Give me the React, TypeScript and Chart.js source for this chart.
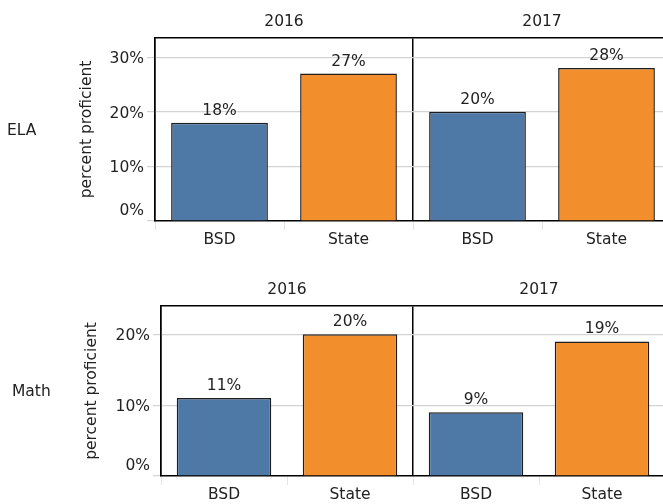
import React, { useEffect, useRef } from "react";
import { Chart, registerables } from "chart.js";

Chart.register(...registerables);

const categories = ["BSD", "State", "BSD", "State"];
const years = ["2016", "2017"];
const elaValues = [18, 27, 20, 28];
const mathValues = [11, 20, 9, 19];
const elaTicks = [0, 10, 20, 30];
const mathTicks = [0, 10, 20];
const elaMax = 33.5;
const mathMax = 24;
const rowLabels = ["ELA", "Math"];
const yTitle = "percent proficient";

const BLUE = "#4e79a7";
const ORANGE = "#f28e2b";
const FONT = "'DejaVu Sans', sans-serif";
const FS = 15.5;
const TEXT = "#222";
const GRID = "#d3d3d3";

const barColors = categories.map((c) => (c === "BSD" ? BLUE : ORANGE));

const valueLabelPlugin = {
  id: "valueLabels",
  afterDatasetsDraw(chart: any) {
    const ctx = chart.ctx;
    const meta = chart.getDatasetMeta(0);
    const data = chart.data.datasets[0].data;
    ctx.save();
    ctx.font = `${FS}px ${FONT}`;
    ctx.fillStyle = TEXT;
    ctx.textAlign = "center";
    ctx.textBaseline = "alphabetic";
    meta.data.forEach((el: any, i: number) => {
      ctx.fillText(`${data[i]}%`, el.x, el.y - 8);
    });
    ctx.restore();
  },
};

type Geo = {
  top: number;
  height: number;
  padLeft: number;
  yWidth: number;
  padRight: number;
  headH: number;
  footH: number;
};

function RowChart({ values, max, ticks, geo }: { values: number[]; max: number; ticks: number[]; geo: Geo }) {
  const ref = useRef<HTMLCanvasElement | null>(null);
  useEffect(() => {
    if (!ref.current) return;
    const chart = new Chart(ref.current, {
      type: "bar",
      data: {
        labels: categories,
        datasets: [
          {
            data: values,
            backgroundColor: barColors,
            borderColor: "#1e1e1e",
            borderWidth: 1.5,
            barPercentage: 0.75,
            categoryPercentage: 1,
            xAxisID: "x",
            yAxisID: "y",
          },
        ],
      },
      options: {
        animation: false,
        responsive: false,
        layout: { padding: { left: geo.padLeft, right: geo.padRight, top: 0, bottom: 0 } },
        plugins: { legend: { display: false }, tooltip: { enabled: false } },
        scales: {
          x: {
            type: "category",
            position: "bottom",
            offset: true,
            grid: {
              display: true,
              offset: true,
              drawOnChartArea: false,
              drawTicks: true,
              tickLength: 9,
              tickColor: "#e4e4e4",
              color: "#e4e4e4",
            },
            border: { display: true, color: "#000", width: 1.5 },
            ticks: { font: { family: FONT, size: FS }, color: TEXT, padding: 1, maxRotation: 0 },
            afterFit: (s: any) => {
              s.height = geo.footH;
            },
          },
          x2: {
            type: "category",
            position: "top",
            labels: years,
            offset: true,
            grid: {
              display: true,
              offset: true,
              drawOnChartArea: true,
              drawTicks: false,
              color: "#000",
              lineWidth: 1.5,
            },
            border: { display: true, color: "#000", width: 1.5 },
            ticks: { font: { family: FONT, size: FS }, color: TEXT, padding: 7, maxRotation: 0 },
            afterFit: (s: any) => {
              s.height = geo.headH;
            },
          },
          y: {
            type: "linear",
            position: "left",
            min: 0,
            max: max,
            grid: {
              display: true,
              drawTicks: true,
              tickLength: 8,
              tickColor: GRID,
              lineWidth: 1.2,
              color: (c: any) => (c.tick && c.tick.value === 0 ? "rgba(0,0,0,0)" : GRID),
            },
            border: { display: true, color: "#000", width: 1.5 },
            ticks: {
              font: { family: FONT, size: FS, lineHeight: 1.6 },
              color: TEXT,
              padding: 3,
              labelOffset: 2,
              includeBounds: false,
              callback: (v: any) => (v === 0 ? [`${v}%`, ""] : `${v}%`),
            },
            afterBuildTicks: (s: any) => {
              s.ticks = ticks.map((v) => ({ value: v }));
            },
            title: {
              display: true,
              text: yTitle,
              font: { family: FONT, size: FS },
              color: TEXT,
              padding: { top: 4, bottom: 4 },
            },
            afterFit: (s: any) => {
              s.width = geo.yWidth;
            },
          },
        },
      },
      plugins: [valueLabelPlugin],
    } as any);
    return () => chart.destroy();
  }, []);
  return (
    <canvas
      ref={ref}
      width={680}
      height={geo.height}
      style={{ position: "absolute", left: 0, top: geo.top, width: 680, height: geo.height }}
    />
  );
}

const labelStyle: React.CSSProperties = {
  position: "absolute",
  fontFamily: FONT,
  fontSize: FS,
  lineHeight: "20px",
  color: TEXT,
};

export default function App() {
  return (
    <div
      style={{
        position: "absolute",
        left: 0,
        top: 0,
        width: 663,
        height: 504,
        overflow: "hidden",
        background: "#fff",
      }}
    >
      <RowChart
        values={elaValues}
        max={elaMax}
        ticks={elaTicks}
        geo={{ top: 0, height: 260, padLeft: 74, yWidth: 81, padRight: 9, headH: 38, footH: 39 }}
      />
      <RowChart
        values={mathValues}
        max={mathMax}
        ticks={mathTicks}
        geo={{ top: 260, height: 260, padLeft: 79, yWidth: 82, padRight: 15, headH: 46, footH: 44 }}
      />
      <div style={{ ...labelStyle, left: 7, top: 120 }}>{rowLabels[0]}</div>
      <div style={{ ...labelStyle, left: 12, top: 381 }}>{rowLabels[1]}</div>
    </div>
  );
}
